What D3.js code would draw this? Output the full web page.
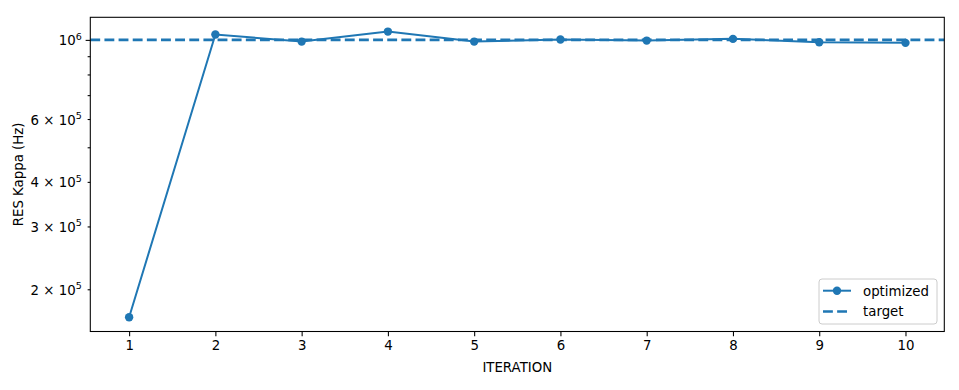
<!DOCTYPE html>
<html>
<head>
<meta charset="utf-8">
<script src="https://cdn.jsdelivr.net/npm/d3@7"></script>
<style>
  body { margin: 0; background: #fff; }
  text { font-family: "DejaVu Sans", sans-serif; fill: #000; }
</style>
</head>
<body>
<div id="chart"></div>
<script>
// data
var iterations = [1, 2, 3, 4, 5, 6, 7, 8, 9, 10];
var optimized = [1.670e5, 1.035e6, 0.989e6, 1.055e6, 0.989e6, 1.002e6, 0.9955e6, 1.0065e6, 0.985e6, 0.981e6];
var target = 1e6;
var labeledTicks = [
    {v: 1e6, m: null, e: 6},
    {v: 6e5, m: 6, e: 5},
    {v: 4e5, m: 4, e: 5},
    {v: 3e5, m: 3, e: 5},
    {v: 2e5, m: 2, e: 5}
];
var majorTicks = [1e6];
var minorTicks = [2e5, 3e5, 4e5, 5e5, 6e5, 7e5, 8e5, 9e5];

var W = 959, H = 390;
var margin = {t: 17.3, r: 14.7, b: 58.5, l: 90.3};
var width = W - margin.l - margin.r;
var height = H - margin.t - margin.b;
var blue = '#1f77b4';

var svg = d3.select('#chart').append('svg')
    .attr('width', W)
    .attr('height', H);

var g = svg.append('g')
    .attr('transform', 'translate(' + margin.l + ',' + margin.t + ')');

// matplotlib style 5% margins
var x = d3.scaleLinear()
    .domain([1 - 0.45, 10 + 0.45])
    .range([0, width]);

var lo = Math.log10(d3.min(optimized)), hi = Math.log10(d3.max(optimized));
var pad = (hi - lo) * 0.05;
var y = d3.scaleLog()
    .domain([Math.pow(10, lo - pad), Math.pow(10, hi + pad)])
    .range([height, 0]);

// target line
g.append('line')
    .attr('x1', 0)
    .attr('x2', width)
    .attr('y1', y(target))
    .attr('y2', y(target))
    .attr('stroke', blue)
    .attr('stroke-width', 2.67)
    .attr('stroke-dasharray', '9.87,4.27');

// optimized line
var line = d3.line()
    .x(function (d, i) { return x(iterations[i]); })
    .y(function (d) { return y(d); });

g.append('path')
    .datum(optimized)
    .attr('d', line)
    .attr('fill', 'none')
    .attr('stroke', blue)
    .attr('stroke-width', 2);

g.selectAll('.pt')
    .data(optimized)
    .enter()
    .append('circle')
    .attr('class', 'pt')
    .attr('cx', function (d, i) { return x(iterations[i]); })
    .attr('cy', function (d) { return y(d); })
    .attr('r', 4.2)
    .attr('fill', blue);

// axes
var xAxis = g.append('g')
    .attr('transform', 'translate(0,' + height + ')')
    .call(d3.axisBottom(x).tickValues(iterations).tickSize(4.67).tickPadding(4.5).tickFormat(d3.format('d')));

var yMajor = g.append('g')
    .call(d3.axisLeft(y).tickValues(majorTicks).tickSize(4.67).tickFormat(''));

var yMinor = g.append('g')
    .call(d3.axisLeft(y).tickValues(minorTicks).tickSize(2.67).tickFormat(''));

[xAxis, yMajor, yMinor].forEach(function (a) {
    a.select('.domain').remove();
    a.selectAll('line').attr('stroke', '#000').attr('stroke-width', 1.07);
    a.selectAll('text').attr('font-size', '13.33px').attr('fill', '#000')
        .style('font-family', '"DejaVu Sans", sans-serif');
});

// y tick labels with superscripts
var labels = g.selectAll('.ylab')
    .data(labeledTicks)
    .enter()
    .append('text')
    .attr('class', 'ylab')
    .attr('x', -8.6)
    .attr('y', function (d) { return y(d.v) + 5.5; })
    .attr('text-anchor', 'end')
    .attr('font-size', '13.33px');

labels.append('tspan')
    .text(function (d) { return d.m === null ? '10' : d.m + ' \u00d7 10'; });
labels.append('tspan')
    .attr('dy', -5.5)
    .attr('font-size', '9.5px')
    .text(function (d) { return d.e; });

// frame
g.append('rect')
    .attr('width', width)
    .attr('height', height)
    .attr('fill', 'none')
    .attr('stroke', '#000')
    .attr('stroke-width', 1.07);

// axis titles
svg.append('text')
    .attr('x', margin.l + width / 2)
    .attr('y', 372)
    .attr('text-anchor', 'middle')
    .attr('font-size', '13.33px')
    .text('ITERATION');

svg.append('text')
    .attr('transform', 'translate(22.5,' + (margin.t + height / 2) + ') rotate(-90)')
    .attr('text-anchor', 'middle')
    .attr('font-size', '13.33px')
    .text('RES Kappa (Hz)');

// legend
var leg = svg.append('g')
    .attr('transform', 'translate(819,279)');

leg.append('rect')
    .attr('width', 118)
    .attr('height', 45)
    .attr('rx', 3)
    .attr('fill', '#fff')
    .attr('fill-opacity', 0.8)
    .attr('stroke', '#ccc')
    .attr('stroke-width', 1);

leg.append('line')
    .attr('x1', 4).attr('x2', 32)
    .attr('y1', 11.7).attr('y2', 11.7)
    .attr('stroke', blue).attr('stroke-width', 2);
leg.append('circle')
    .attr('cx', 18).attr('cy', 11.7).attr('r', 4.2)
    .attr('fill', blue);
leg.append('text')
    .attr('x', 44).attr('y', 16.5)
    .attr('font-size', '13.33px')
    .text('optimized');

leg.append('line')
    .attr('x1', 4).attr('x2', 32)
    .attr('y1', 32.5).attr('y2', 32.5)
    .attr('stroke', blue).attr('stroke-width', 2.67)
    .attr('stroke-dasharray', '9.87,4.27');
leg.append('text')
    .attr('x', 44).attr('y', 37)
    .attr('font-size', '13.33px')
    .text('target');
</script>
</body>
</html>
